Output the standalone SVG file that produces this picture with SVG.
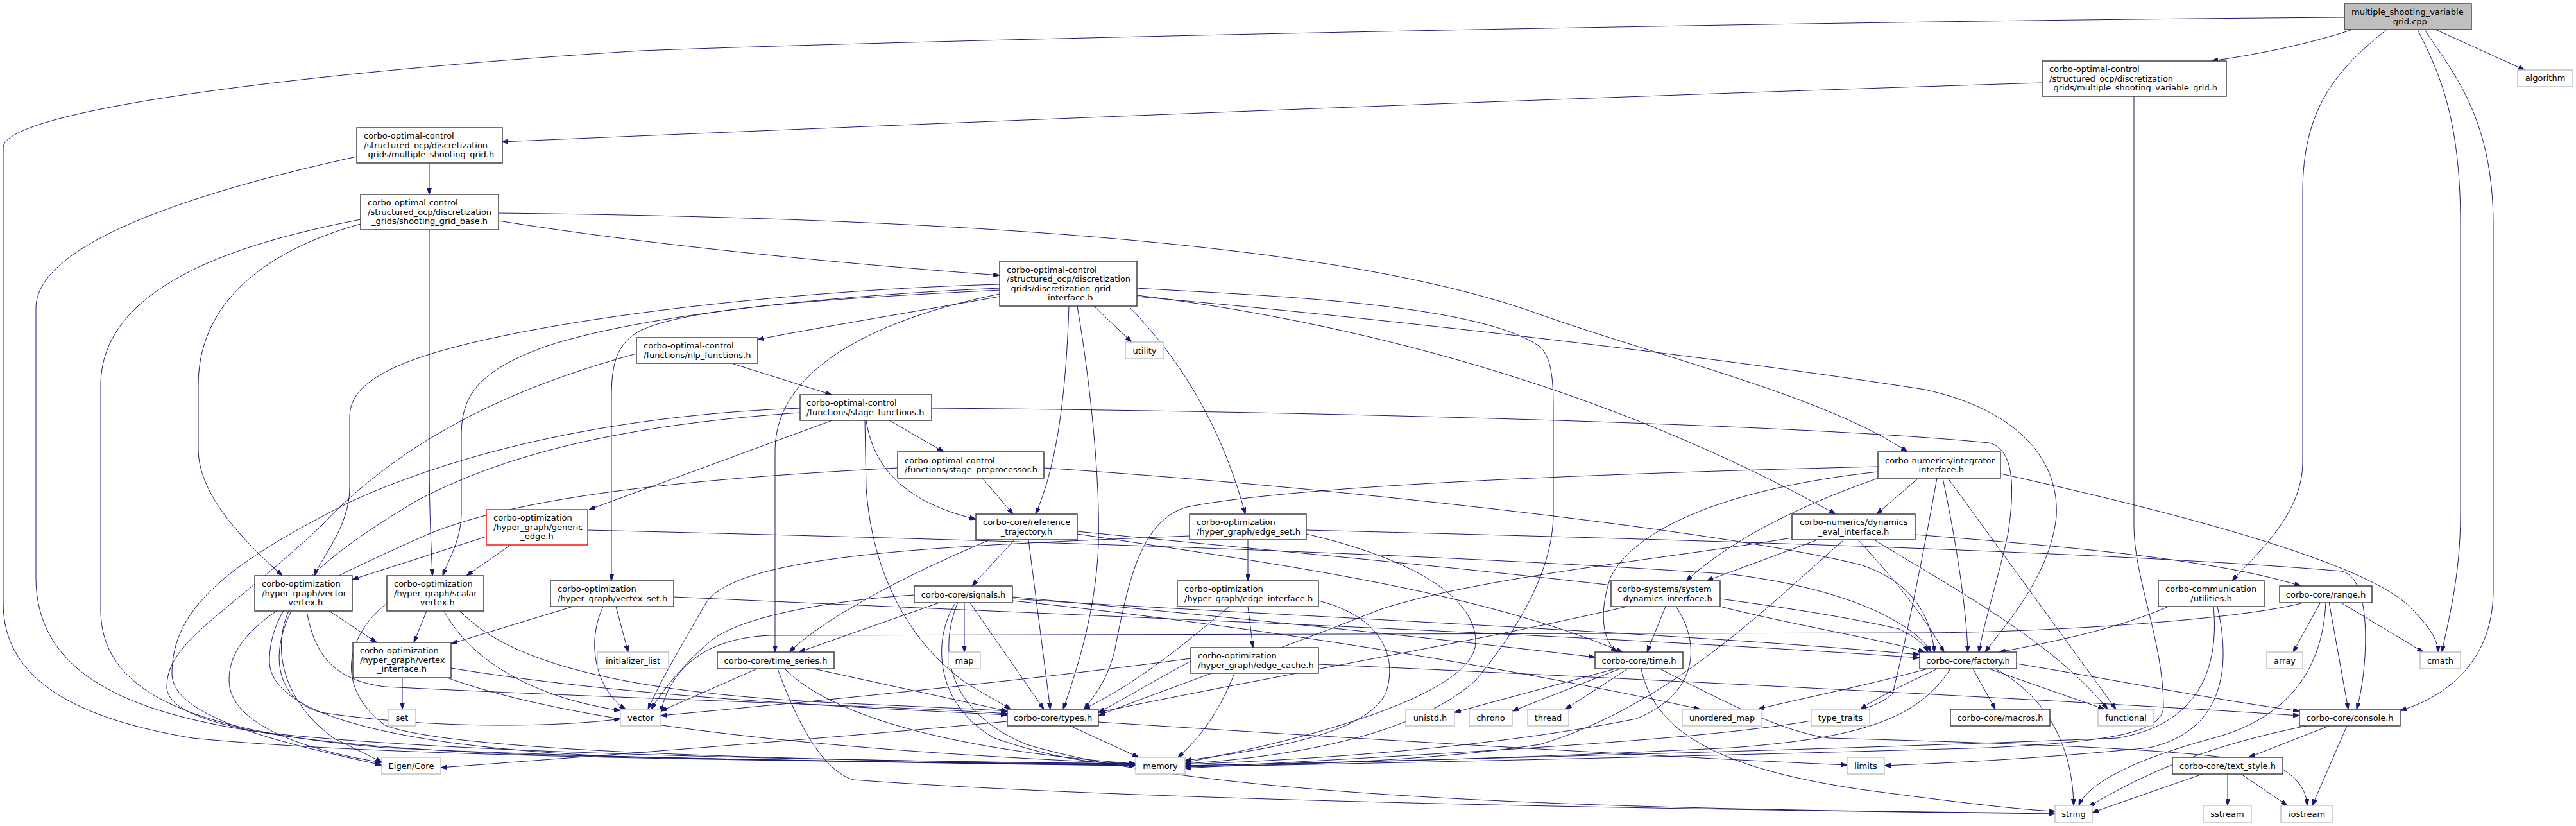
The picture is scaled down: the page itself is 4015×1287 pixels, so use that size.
<svg xmlns="http://www.w3.org/2000/svg" width="4015" height="1287" viewBox="0 0 4015 1287">
<defs>
<marker id="ah" markerWidth="10" markerHeight="7" refX="10" refY="3.5" orient="auto" markerUnits="userSpaceOnUse"><path d="M0,0 L10,3.5 L0,7 z" fill="#191970" stroke="#191970" stroke-width="1"/></marker>
</defs>
<style>
text{font-family:"DejaVu Sans","Liberation Sans",sans-serif;font-size:13px;fill:#000}
.c{text-anchor:middle}
.d rect{fill:#fff;stroke:#333;stroke-width:1.4}
.x rect{fill:#fff;stroke:#bfbfbf;stroke-width:1.4}
.r rect{fill:#fff;stroke:#ff0000;stroke-width:1.4}
.root rect{fill:#bfbfbf;stroke:#333;stroke-width:1.4}
#edges path{fill:none;stroke:#191970;stroke-width:1;marker-end:url(#ah)}
</style>
<rect width="4015" height="1287" fill="#fff"/>
<g id="edges">
<path d="M3667,46 C3600,68 3520,85 3447,95"/>
<path d="M3796,46 L3935,109"/>
<path d="M3720,46 C3640,110 3589,170 3589,300 L3589,720 C3589,800 3520,860 3479,905"/>
<path d="M3768,46 C3800,110 3835,180 3835,350 L3835,800 C3835,900 3815,970 3806,1016"/>
<path d="M3779,46 C3820,110 3886,180 3886,350 L3886,920 C3886,1040 3800,1090 3741,1107"/>
<path d="M3654,27 C2800,33 1500,60 1000,79 C500,110 5,170 5,230 L5,940 C5,1060 120,1120 300,1150 C600,1180 1200,1185 1770,1192"/>
<path d="M3183,129 C2500,150 1500,190 782,221"/>
<path d="M3326,150 L3326,820 C3326,900 3372,1000 3372,1100 C3372,1140 3300,1155 3100,1165 C2600,1180 2100,1190 1847,1195"/>
<path d="M669,254 L669,303"/>
<path d="M556,244 C300,300 56,380 56,480 L56,900 C56,1050 200,1110 400,1140 C700,1175 1300,1185 1770,1190"/>
<path d="M777,344 C1000,380 1300,410 1558,429"/>
<path d="M777,332 C1500,340 2100,380 2400,490 C2600,560 2850,620 2973,704"/>
<path d="M669,358 L669,700 C669,800 672,850 674,897"/>
<path d="M562,349 C450,380 309,450 309,600 L309,700 C309,780 400,860 440,897"/>
<path d="M562,342 C420,370 157,430 157,600 L157,950 C157,1080 300,1140 600,1165 C1000,1185 1500,1188 1770,1191"/>
<path d="M1558,462 C1400,490 1250,515 1181,529"/>
<path d="M1558,443 C1300,450 1000,480 800,520 C600,560 545,600 545,650 L545,760 C545,820 500,870 490,897"/>
<path d="M1558,449 C1300,460 1000,490 850,540 C740,580 719,620 719,680 L719,800 C719,840 700,870 690,897"/>
<path d="M1558,452 C1300,465 1050,480 990,520 C960,540 953,570 953,620 L953,905"/>
<path d="M1558,458 C1400,490 1210,560 1208,700 L1208,1016"/>
<path d="M1666,477 C1662,600 1650,720 1614,801"/>
<path d="M1679,477 C1700,600 1715,750 1712,850 C1708,950 1680,1040 1657,1105"/>
<path d="M1705,477 L1764,533"/>
<path d="M1759,477 C1830,550 1900,650 1941,801"/>
<path d="M1772,449 C1950,460 2300,470 2400,540 C2421,560 2421,600 2421,650 L2421,800 C2421,900 2350,1000 2300,1060 C2200,1150 2000,1180 1847,1190"/>
<path d="M1772,460 C2100,500 2500,600 2861,801"/>
<path d="M1772,462 C2200,500 2700,560 3000,607 C3150,640 3210,720 3205,805 C3195,900 3120,980 3094,1016"/>
<path d="M1143,567 L1296,615"/>
<path d="M992,551 C850,590 650,660 500,820 C350,960 260,1000 260,1070 C260,1130 450,1160 800,1175 C1200,1185 1500,1190 1770,1193"/>
<path d="M1297,655 L918,794"/>
<path d="M1386,655 L1471,704"/>
<path d="M1350,655 C1360,720 1400,780 1521,809"/>
<path d="M1348,655 L1350,760 C1360,900 1420,1000 1500,1060 C1530,1080 1560,1095 1575,1105"/>
<path d="M1452,636 C2000,640 2800,660 3100,690 C3140,700 3140,760 3130,830 C3115,900 3095,960 3084,1016"/>
<path d="M1247,636 C1000,645 750,690 550,780 C350,880 268,950 268,1050 C268,1120 450,1160 595,1192"/>
<path d="M1247,643 C1000,660 800,700 650,780 C480,880 420,950 420,1030 C420,1130 700,1170 1000,1180 C1400,1188 1600,1190 1770,1193"/>
<path d="M1531,745 L1579,801"/>
<path d="M1627,729 C2100,760 2700,830 2900,880 C2990,910 3010,970 3015,1016"/>
<path d="M1399,729 C1100,745 800,770 650,840 C450,930 357,980 357,1060 C357,1130 480,1170 595,1188"/>
<path d="M758,836 L549,903"/>
<path d="M796,849 L727,897"/>
<path d="M916,826 C1500,840 2200,860 2700,895 C2900,920 2990,980 3010,1016"/>
<path d="M1581,841 L1515,913"/>
<path d="M1543,841 C1450,880 1300,950 1230,1016"/>
<path d="M1603,841 L1637,1105"/>
<path d="M1679,832 C2000,880 2300,920 2529,1016"/>
<path d="M1679,828 C2100,870 2700,920 2960,980 C2990,995 3000,1005 3005,1016"/>
<path d="M1945,841 L1945,905"/>
<path d="M1854,835 C1500,850 1150,860 1100,940 C1060,1010 1030,1060 1010,1105"/>
<path d="M2036,826 C2600,840 3300,860 3650,890 C3700,900 3690,1050 3673,1105"/>
<path d="M2036,832 C2200,870 2300,930 2300,1000 C2300,1080 2050,1150 1847,1188"/>
<path d="M1503,938 L1503,1016"/>
<path d="M1467,938 L1245,1016"/>
<path d="M1511,938 L1627,1105"/>
<path d="M1425,927 C1300,935 1150,960 1105,1001 C1060,1040 1030,1080 1015,1105"/>
<path d="M1490,938 C1450,1000 1460,1100 1550,1150 C1650,1185 1720,1190 1770,1192"/>
<path d="M1493,938 C1460,1020 1480,1110 1600,1160 C1900,1250 2600,1262 3203,1267"/>
<path d="M1578,930 C1900,960 2200,990 2486,1024"/>
<path d="M1578,933 C2000,960 2600,985 2992,1020"/>
<path d="M1578,936 C2000,980 2400,1050 2650,1105"/>
<path d="M1945,945 L1953,1009"/>
<path d="M1916,945 C1850,1000 1780,1060 1689,1105"/>
<path d="M2055,936 C2150,960 2180,1020 2160,1080 C2130,1140 2000,1165 1847,1185"/>
<path d="M1856,1030 C1800,1060 1750,1090 1712,1110"/>
<path d="M1856,1026 C1600,1060 1300,1090 1030,1115"/>
<path d="M1924,1049 C1900,1110 1870,1150 1836,1180"/>
<path d="M2055,1035 C2600,1060 3200,1090 3584,1115"/>
<path d="M1570,1124 C1300,1150 900,1180 687,1196"/>
<path d="M1668,1131 L1775,1180"/>
<path d="M1712,1125 C2100,1150 2600,1180 2879,1192"/>
<path d="M2518,1042 L2267,1110"/>
<path d="M2525,1042 L2357,1108"/>
<path d="M2537,1042 L2440,1105"/>
<path d="M2558,1042 C2580,1150 2700,1200 2900,1230 C3050,1250 3150,1262 3203,1264"/>
<path d="M2587,1042 C2700,1100 2780,1140 2850,1150 C3200,1160 3500,1170 3560,1200 C3590,1220 3595,1240 3596,1255"/>
<path d="M2596,945 L2567,1016"/>
<path d="M2536,945 C2300,1000 2000,1050 1712,1110"/>
<path d="M2681,945 C2800,975 2950,1000 3000,1016"/>
<path d="M2612,945 C2650,1000 2650,1080 2550,1120 C2300,1170 2000,1185 1847,1191"/>
<path d="M2833,841 L2660,905"/>
<path d="M2793,838 C2600,870 2300,900 2150,950 C2000,1010 1800,1080 1712,1115"/>
<path d="M2874,841 C2750,950 2600,1100 2400,1160 C2200,1190 1950,1193 1847,1194"/>
<path d="M2896,841 C2950,900 3000,960 3030,1016"/>
<path d="M2921,841 C3050,920 3200,1000 3285,1105"/>
<path d="M2985,833 C3200,850 3450,870 3586,913"/>
<path d="M2990,745 L2925,801"/>
<path d="M2927,745 C2800,790 2700,840 2628,905"/>
<path d="M2927,727 C2400,740 2000,760 1850,790 C1780,810 1760,900 1740,1000 C1730,1060 1700,1090 1690,1105"/>
<path d="M2927,735 C2700,760 2550,820 2510,900 C2490,960 2500,1000 2520,1016"/>
<path d="M3028,745 C3050,850 3065,950 3067,1016"/>
<path d="M3036,745 L3298,1105"/>
<path d="M3118,738 C3400,800 3700,880 3760,950 C3790,980 3800,1000 3800,1016"/>
<path d="M3019,745 C3000,850 2975,980 2950,1080 C2900,1140 2500,1160 1847,1197"/>
<path d="M3380,945 C3300,980 3200,1000 3116,1016"/>
<path d="M3450,945 C3460,1050 3420,1130 3300,1150 C2800,1170 2200,1185 1847,1193"/>
<path d="M3456,945 C3480,1050 3460,1140 3350,1165 C3150,1185 3000,1190 2937,1193"/>
<path d="M3617,938 L3574,1016"/>
<path d="M3647,938 L3777,1016"/>
<path d="M3630,938 L3660,1105"/>
<path d="M3594,938 C3500,965 3200,985 3000,986 L1200,990 C1080,995 1040,1060 1030,1110"/>
<path d="M3625,938 C3620,1050 3560,1120 3450,1150 C3300,1190 3250,1230 3240,1255"/>
<path d="M3005,1042 C2900,1070 2800,1090 2740,1105"/>
<path d="M3020,1042 C2960,1070 2920,1090 2900,1105"/>
<path d="M3040,1042 C2990,1120 2900,1150 2700,1165 C2300,1185 2000,1190 1847,1193"/>
<path d="M3075,1042 L3110,1105"/>
<path d="M3100,1042 L3280,1105"/>
<path d="M3110,1042 C3180,1080 3230,1150 3232,1255"/>
<path d="M3143,1034 C3300,1060 3450,1090 3584,1108"/>
<path d="M3630,1131 L3505,1180"/>
<path d="M3658,1131 L3604,1255"/>
<path d="M3595,1131 C3450,1160 3350,1200 3255,1257"/>
<path d="M3433,1206 L3261,1266"/>
<path d="M3472,1206 L3472,1255"/>
<path d="M3493,1206 L3565,1255"/>
<path d="M513,952 L587,1001"/>
<path d="M450,952 C420,1020 450,1100 520,1150 C560,1170 580,1180 595,1187"/>
<path d="M454,952 C420,1020 430,1090 500,1110 C700,1140 900,1130 967,1120"/>
<path d="M478,952 C490,1020 520,1060 600,1070 C1000,1090 1400,1100 1570,1112"/>
<path d="M665,952 L645,1001"/>
<path d="M692,952 C740,1040 850,1090 967,1107"/>
<path d="M717,952 C800,1040 1000,1080 1300,1095 C1450,1102 1530,1105 1570,1108"/>
<path d="M603,940 C540,990 520,1070 600,1130 C700,1170 1200,1185 1770,1190"/>
<path d="M893,945 L703,1003"/>
<path d="M960,945 L979,1016"/>
<path d="M940,945 C910,1010 935,1080 975,1105"/>
<path d="M1050,930 C1700,960 2500,990 2992,1025"/>
<path d="M627,1056 L627,1105"/>
<path d="M703,1041 C1000,1090 1400,1105 1570,1114"/>
<path d="M697,1056 C900,1130 1300,1170 1770,1190"/>
<path d="M1180,1042 L1030,1108"/>
<path d="M1268,1042 L1570,1108"/>
<path d="M1223,1042 C1300,1120 1500,1170 1770,1190"/>
<path d="M1212,1042 C1240,1120 1280,1200 1330,1215 C1800,1250 2700,1262 3203,1268"/>
</g>
<g id="n_root" class="root"><rect x="3654" y="6" width="198" height="40"/><text x="3665" y="23">multiple_shooting_variable</text><text class="c" x="3753" y="38">_grid.cpp</text></g>
<g id="n_msvg" class="d"><rect x="3183" y="95" width="287" height="55"/><text x="3194" y="112">corbo-optimal-control</text><text x="3194" y="127">/structured_ocp/discretization</text><text x="3194" y="141">_grids/multiple_shooting_variable_grid.h</text></g>
<g id="n_algorithm" class="x"><rect x="3924" y="109" width="86" height="26"/><text class="c" x="3967" y="126">algorithm</text></g>
<g id="n_msg" class="d"><rect x="556" y="199" width="227" height="55"/><text x="567" y="216">corbo-optimal-control</text><text x="567" y="231">/structured_ocp/discretization</text><text x="567" y="245">_grids/multiple_shooting_grid.h</text></g>
<g id="n_sgb" class="d"><rect x="562" y="303" width="215" height="55"/><text x="573" y="320">corbo-optimal-control</text><text x="573" y="335">/structured_ocp/discretization</text><text class="c" x="669.5" y="349">_grids/shooting_grid_base.h</text></g>
<g id="n_dgi" class="d"><rect x="1558" y="407" width="214" height="70"/><text x="1569" y="424.5">corbo-optimal-control</text><text x="1569" y="439">/structured_ocp/discretization</text><text x="1569" y="453.5">_grids/discretization_grid</text><text class="c" x="1665" y="468">_interface.h</text></g>
<g id="n_nlp" class="d"><rect x="992" y="526" width="189" height="40"/><text x="1003" y="543">corbo-optimal-control</text><text x="1003" y="557.5">/functions/nlp_functions.h</text></g>
<g id="n_utility" class="x"><rect x="1754" y="533" width="60" height="26"/><text class="c" x="1784" y="550.5">utility</text></g>
<g id="n_sf" class="d"><rect x="1247" y="615" width="205" height="40"/><text x="1257" y="632">corbo-optimal-control</text><text x="1257" y="646.5">/functions/stage_functions.h</text></g>
<g id="n_sp" class="d"><rect x="1399" y="704" width="228" height="41"/><text x="1410" y="721.5">corbo-optimal-control</text><text x="1410" y="736">/functions/stage_preprocessor.h</text></g>
<g id="n_integrator" class="d"><rect x="2927" y="704" width="191" height="41"/><text x="2938" y="721.5">corbo-numerics/integrator</text><text class="c" x="3022.5" y="736">_interface.h</text></g>
<g id="n_ge" class="r"><rect x="758" y="794" width="158" height="55"/><text x="769" y="811">corbo-optimization</text><text x="769" y="826">/hyper_graph/generic</text><text class="c" x="837" y="840">_edge.h</text></g>
<g id="n_rt" class="d"><rect x="1521" y="801" width="158" height="40"/><text x="1532" y="818">corbo-core/reference</text><text class="c" x="1600" y="832.5">_trajectory.h</text></g>
<g id="n_es" class="d"><rect x="1854" y="801" width="182" height="40"/><text x="1865" y="818">corbo-optimization</text><text x="1865" y="832.5">/hyper_graph/edge_set.h</text></g>
<g id="n_de" class="d"><rect x="2793" y="801" width="192" height="40"/><text x="2805" y="818">corbo-numerics/dynamics</text><text class="c" x="2889" y="832.5">_eval_interface.h</text></g>
<g id="n_vv" class="d"><rect x="397" y="897" width="152" height="55"/><text x="408" y="914">corbo-optimization</text><text x="408" y="929">/hyper_graph/vector</text><text class="c" x="473" y="943">_vertex.h</text></g>
<g id="n_sv" class="d"><rect x="603" y="897" width="151" height="55"/><text x="614" y="914">corbo-optimization</text><text x="614" y="929">/hyper_graph/scalar</text><text class="c" x="678.5" y="943">_vertex.h</text></g>
<g id="n_vs" class="d"><rect x="858" y="905" width="192" height="40"/><text x="869" y="922">corbo-optimization</text><text x="869" y="936.5">/hyper_graph/vertex_set.h</text></g>
<g id="n_signals" class="d"><rect x="1425" y="913" width="153" height="26"/><text class="c" x="1501.5" y="930.5">corbo-core/signals.h</text></g>
<g id="n_ei" class="d"><rect x="1835" y="905" width="220" height="40"/><text x="1846" y="922">corbo-optimization</text><text x="1846" y="936.5">/hyper_graph/edge_interface.h</text></g>
<g id="n_sd" class="d"><rect x="2511" y="905" width="170" height="40"/><text x="2521" y="922">corbo-systems/system</text><text class="c" x="2596" y="936.5">_dynamics_interface.h</text></g>
<g id="n_ut" class="d"><rect x="3364" y="905" width="165" height="40"/><text x="3375" y="922">corbo-communication</text><text class="c" x="3446.5" y="936.5">/utilities.h</text></g>
<g id="n_range" class="d"><rect x="3553" y="913" width="144" height="26"/><text class="c" x="3625" y="930.5">corbo-core/range.h</text></g>
<g id="n_vi" class="d"><rect x="550" y="1001" width="153" height="55"/><text x="561" y="1018">corbo-optimization</text><text x="561" y="1033">/hyper_graph/vertex</text><text class="c" x="626.5" y="1047">_interface.h</text></g>
<g id="n_il" class="x"><rect x="931" y="1016" width="111" height="26"/><text class="c" x="986.5" y="1033.5">initializer_list</text></g>
<g id="n_ts" class="d"><rect x="1118" y="1016" width="182" height="26"/><text class="c" x="1209" y="1033.5">corbo-core/time_series.h</text></g>
<g id="n_map" class="x"><rect x="1478" y="1016" width="50" height="26"/><text class="c" x="1503" y="1033.5">map</text></g>
<g id="n_ec" class="d"><rect x="1856" y="1009" width="199" height="40"/><text x="1867" y="1026">corbo-optimization</text><text x="1867" y="1040.5">/hyper_graph/edge_cache.h</text></g>
<g id="n_time" class="d"><rect x="2486" y="1016" width="137" height="26"/><text class="c" x="2554.5" y="1033.5">corbo-core/time.h</text></g>
<g id="n_factory" class="d"><rect x="2992" y="1016" width="151" height="26"/><text class="c" x="3067.5" y="1033.5">corbo-core/factory.h</text></g>
<g id="n_array" class="x"><rect x="3533" y="1016" width="56" height="26"/><text class="c" x="3561" y="1033.5">array</text></g>
<g id="n_cmath" class="x"><rect x="3772" y="1016" width="63" height="26"/><text class="c" x="3803.5" y="1033.5">cmath</text></g>
<g id="n_set" class="x"><rect x="605" y="1105" width="43" height="26"/><text class="c" x="626.5" y="1122.5">set</text></g>
<g id="n_vector" class="x"><rect x="967" y="1105" width="63" height="26"/><text class="c" x="998.5" y="1122.5">vector</text></g>
<g id="n_types" class="d"><rect x="1570" y="1105" width="142" height="26"/><text class="c" x="1641" y="1122.5">corbo-core/types.h</text></g>
<g id="n_unistd" class="x"><rect x="2191" y="1105" width="76" height="26"/><text class="c" x="2229" y="1122.5">unistd.h</text></g>
<g id="n_chrono" class="x"><rect x="2290" y="1105" width="67" height="26"/><text class="c" x="2323.5" y="1122.5">chrono</text></g>
<g id="n_thread" class="x"><rect x="2381" y="1105" width="64" height="26"/><text class="c" x="2413" y="1122.5">thread</text></g>
<g id="n_umap" class="x"><rect x="2622" y="1105" width="124" height="26"/><text class="c" x="2684" y="1122.5">unordered_map</text></g>
<g id="n_tt" class="x"><rect x="2823" y="1105" width="91" height="26"/><text class="c" x="2868.5" y="1122.5">type_traits</text></g>
<g id="n_macros" class="d"><rect x="3040" y="1105" width="155" height="26"/><text class="c" x="3117.5" y="1122.5">corbo-core/macros.h</text></g>
<g id="n_functional" class="x"><rect x="3270" y="1105" width="87" height="26"/><text class="c" x="3313.5" y="1122.5">functional</text></g>
<g id="n_console" class="d"><rect x="3584" y="1105" width="157" height="26"/><text class="c" x="3662.5" y="1122.5">corbo-core/console.h</text></g>
<g id="n_eigen" class="x"><rect x="595" y="1180" width="92" height="26"/><text class="c" x="641" y="1197.5">Eigen/Core</text></g>
<g id="n_memory" class="x"><rect x="1770" y="1180" width="77" height="26"/><text class="c" x="1808.5" y="1197.5">memory</text></g>
<g id="n_limits" class="x"><rect x="2879" y="1180" width="58" height="26"/><text class="c" x="2908" y="1197.5">limits</text></g>
<g id="n_textstyle" class="d"><rect x="3386" y="1180" width="172" height="26"/><text class="c" x="3472" y="1197.5">corbo-core/text_style.h</text></g>
<g id="n_string" class="x"><rect x="3203" y="1255" width="58" height="26"/><text class="c" x="3232" y="1272.5">string</text></g>
<g id="n_sstream" class="x"><rect x="3434" y="1255" width="75" height="26"/><text class="c" x="3471.5" y="1272.5">sstream</text></g>
<g id="n_iostream" class="x"><rect x="3555" y="1255" width="81" height="26"/><text class="c" x="3595.5" y="1272.5">iostream</text></g>
</svg>
